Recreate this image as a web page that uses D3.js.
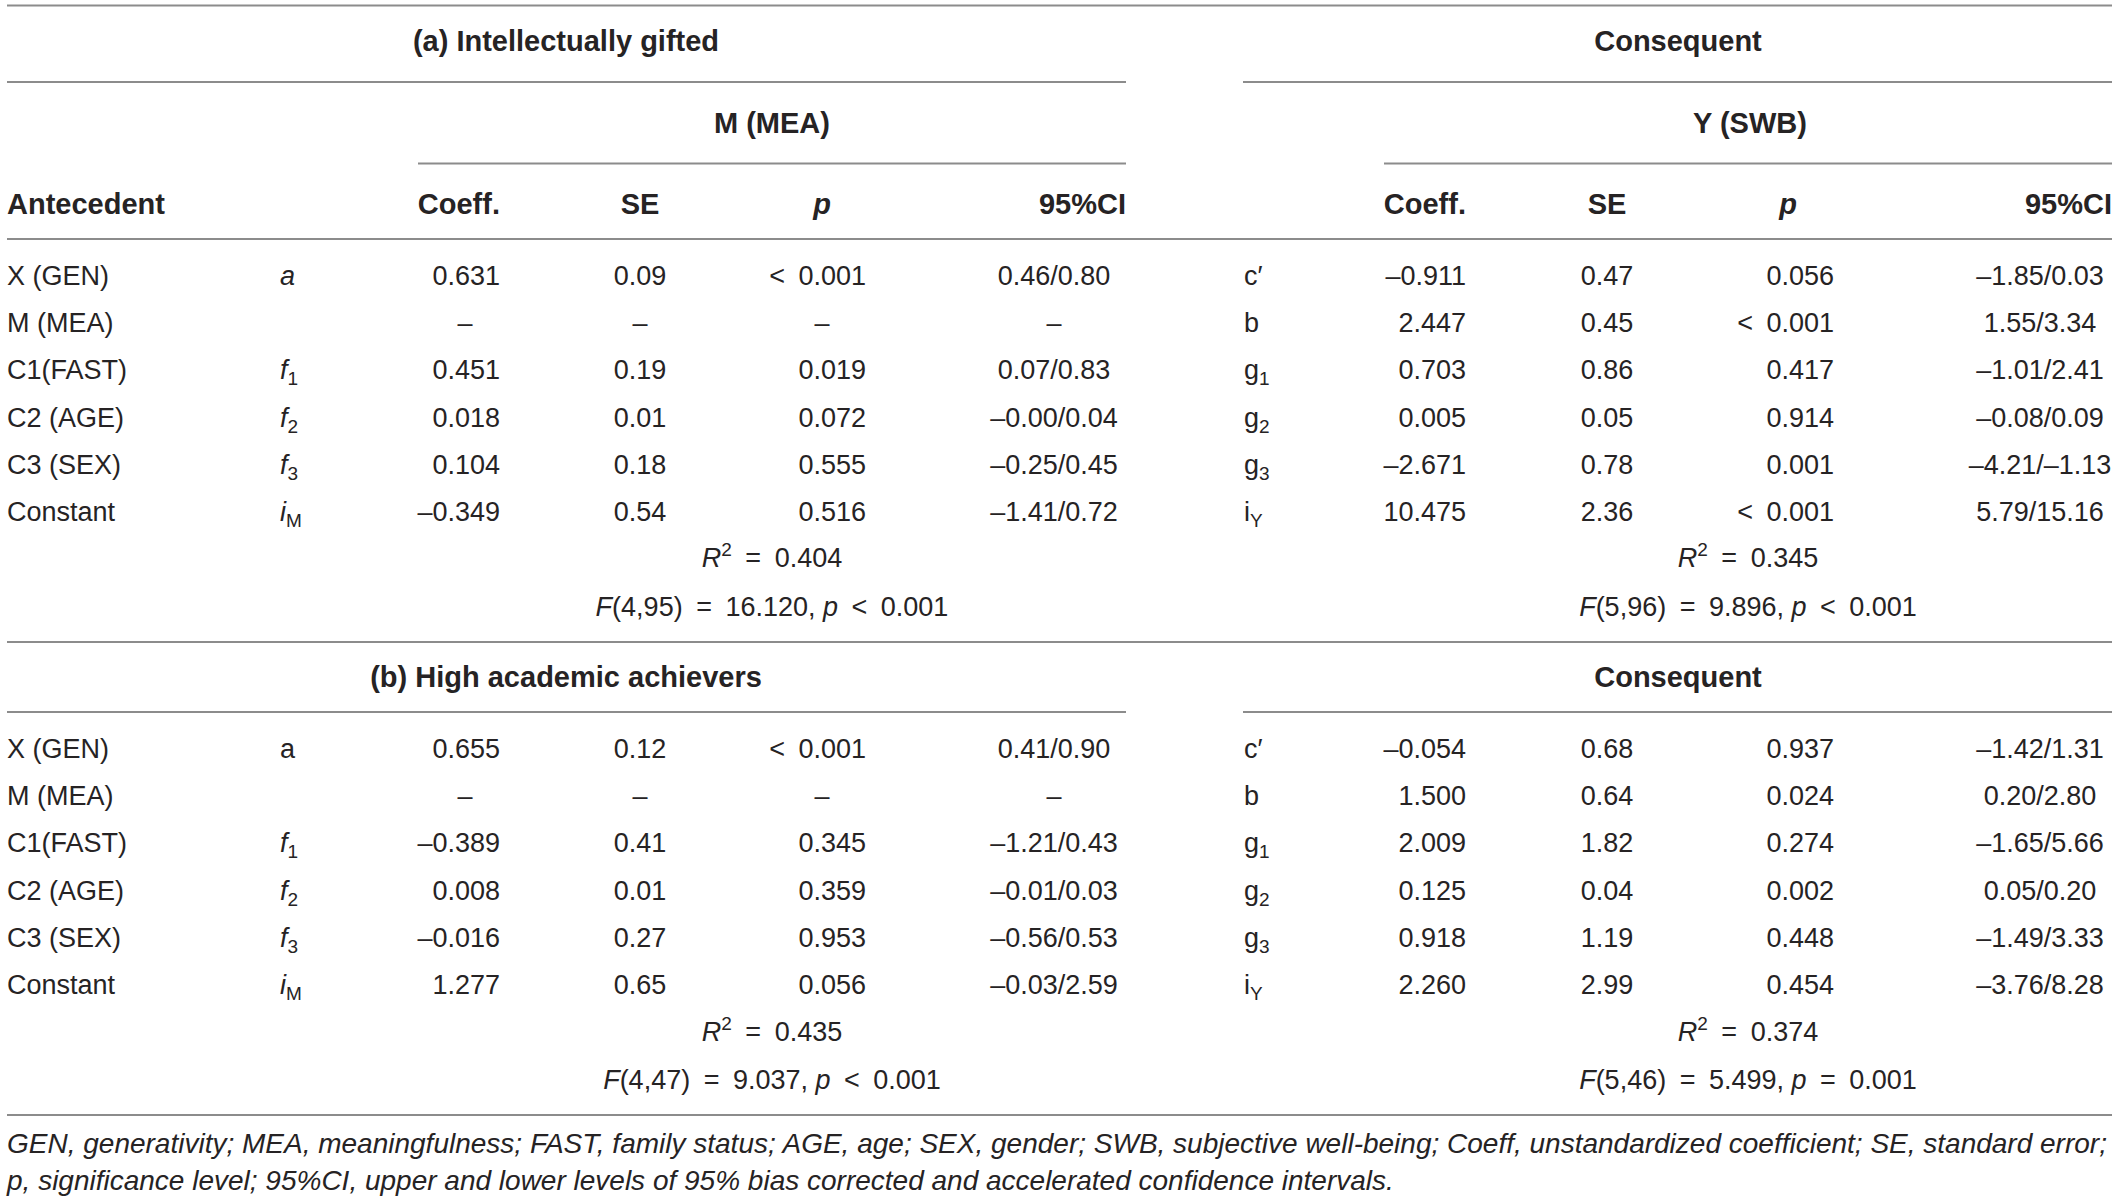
<!DOCTYPE html>
<html><head><meta charset="utf-8">
<script src="https://cdn.jsdelivr.net/npm/d3@7"></script>
<style>
body{margin:0;background:#fff}
text{font-family:"Liberation Sans",Arial,Helvetica,sans-serif;fill:#262324}
</style>
</head><body>
<svg id="c" width="2119" height="1202"></svg>
<script>
// ---------- DATA ----------
const antecedents = ["X (GEN)", "M (MEA)", "C1(FAST)", "C2 (AGE)", "C3 (SEX)", "Constant"];

const panelTitles = ["(a) Intellectually gifted", "(b) High academic achievers"];
const consequentLabel = "Consequent";
const outcomeM = "M (MEA)";
const outcomeY = "Y (SWB)";
const headerCols = ["Coeff.", "SE", "p", "95%CI"];

// panel (a)
const a_symM = ["*a", "", "*f_1", "*f_2", "*f_3", "*i_M"];
const a_coeffM = ["0.631", "–", "0.451", "0.018", "0.104", "–0.349"];
const a_seM = ["0.09", "–", "0.19", "0.01", "0.18", "0.54"];
const a_pM = ["< 0.001", "–", "0.019", "0.072", "0.555", "0.516"];
const a_ciM = ["0.46/0.80", "–", "0.07/0.83", "–0.00/0.04", "–0.25/0.45", "–1.41/0.72"];
const a_symY = ["c′", "b", "g_1", "g_2", "g_3", "i_Y"];
const a_coeffY = ["–0.911", "2.447", "0.703", "0.005", "–2.671", "10.475"];
const a_seY = ["0.47", "0.45", "0.86", "0.05", "0.78", "2.36"];
const a_pY = ["0.056", "< 0.001", "0.417", "0.914", "0.001", "< 0.001"];
const a_ciY = ["–1.85/0.03", "1.55/3.34", "–1.01/2.41", "–0.08/0.09", "–4.21/–1.13", "5.79/15.16"];
const a_r2 = ["0.404", "0.345"];
const a_F = [["4,95", "16.120", "<", "0.001"], ["5,96", "9.896", "<", "0.001"]];

// panel (b)
const b_symM = ["a", "", "*f_1", "*f_2", "*f_3", "*i_M"];
const b_coeffM = ["0.655", "–", "–0.389", "0.008", "–0.016", "1.277"];
const b_seM = ["0.12", "–", "0.41", "0.01", "0.27", "0.65"];
const b_pM = ["< 0.001", "–", "0.345", "0.359", "0.953", "0.056"];
const b_ciM = ["0.41/0.90", "–", "–1.21/0.43", "–0.01/0.03", "–0.56/0.53", "–0.03/2.59"];
const b_symY = ["c′", "b", "g_1", "g_2", "g_3", "i_Y"];
const b_coeffY = ["–0.054", "1.500", "2.009", "0.125", "0.918", "2.260"];
const b_seY = ["0.68", "0.64", "1.82", "0.04", "1.19", "2.99"];
const b_pY = ["0.937", "0.024", "0.274", "0.002", "0.448", "0.454"];
const b_ciY = ["–1.42/1.31", "0.20/2.80", "–1.65/5.66", "0.05/0.20", "–1.49/3.33", "–3.76/8.28"];
const b_r2 = ["0.435", "0.374"];
const b_F = [["4,47", "9.037", "<", "0.001"], ["5,46", "5.499", "=", "0.001"]];

const footnotes = [
  "GEN, generativity; MEA, meaningfulness; FAST, family status; AGE, age; SEX, gender; SWB, subjective well-being; Coeff, unstandardized coefficient; SE, standard error;",
  "p, significance level; 95%CI, upper and lower levels of 95% bias corrected and accelerated confidence intervals."
];

// ---------- LAYOUT ----------
const svg = d3.select("#c");
const FS = 27, FSB = 29, SUB = 19;
const L = 7, R = 2112;
const ruleColor = "#8c8c8c";
const ES = "\u2002"; // en space, mimics the wider math spacing of the original

// column x positions (scale: column key -> x)
const colKeys = ["sym", "coeff", "coeffDash", "se", "p", "pDash", "ci", "ciHead", "merged"];
const xM = d3.scaleOrdinal().domain(colKeys).range([280, 500, 465, 640, 866, 822, 1054, 1126, 772]);
const xY = d3.scaleOrdinal().domain(colKeys).range([1244, 1466, 1431, 1607, 1834, 1788, 2040, 2112, 1748]);

// row scales for both panels
const rowA = d3.scaleLinear().domain([0, 5]).range([276, 512]);
const rowB = d3.scaleLinear().domain([0, 5]).range([749, 985]);

function hline(x1, x2, y, w) {
  svg.append("line").attr("x1", x1).attr("x2", x2).attr("y1", y).attr("y2", y)
    .attr("stroke", ruleColor).attr("stroke-width", w || 2);
}
function txt(x, y, s, anchor, opts) {
  opts = opts || {};
  const t = svg.append("text").attr("x", x).attr("y", y)
    .attr("dominant-baseline", "central")
    .attr("text-anchor", anchor || "start")
    .attr("font-size", opts.size || (opts.bold ? FSB : FS))
    .text(s);
  if (opts.bold) t.attr("font-weight", "bold");
  if (opts.italic) t.attr("font-style", "italic");
  return t;
}
function sym(x, y, s) {
  if (!s) return;
  const italic = s.startsWith("*");
  const body = italic ? s.slice(1) : s;
  const [base, sub] = body.split("_");
  const t = svg.append("text").attr("x", x).attr("y", y)
    .attr("dominant-baseline", "central").attr("font-size", FS);
  t.append("tspan").attr("font-style", italic ? "italic" : "normal").text(base);
  if (sub) t.append("tspan").attr("font-size", SUB).attr("dy", 8).text(sub);
}
const pfmt = s => s.replace("< ", "<" + ES);

// rules
hline(L, R, 5.5);
hline(L, 1126, 82); hline(1243, R, 82);
hline(418, 1126, 163.5); hline(1384, R, 163.5);
hline(L, R, 239);
hline(L, R, 642);
hline(L, 1126, 712); hline(1243, R, 712);
hline(L, R, 1115);

// header titles
txt(566, 40.5, panelTitles[0], "middle", {bold: true});
txt(1678, 40.5, consequentLabel, "middle", {bold: true});
txt(772, 123, outcomeM, "middle", {bold: true});
txt(1750, 123, outcomeY, "middle", {bold: true});

txt(L, 204, "Antecedent", "start", {bold: true});
[xM, xY].forEach(x => {
  txt(x("coeff"), 204, headerCols[0], "end", {bold: true});
  txt(x("se"), 204, headerCols[1], "middle", {bold: true});
  txt(x("pDash"), 204, headerCols[2], "middle", {bold: true, italic: true});
  txt(x("ciHead"), 204, headerCols[3], "end", {bold: true});
});

function block(x, rowY, symArr, coeff, se, p, ci) {
  antecedents.forEach((_, i) => {
    const y = rowY(i);
    sym(x("sym"), y, symArr[i]);
    if (coeff[i] === "–") txt(x("coeffDash"), y, "–", "middle"); else txt(x("coeff"), y, coeff[i], "end");
    txt(x("se"), y, se[i], "middle");
    if (p[i] === "–") txt(x("pDash"), y, "–", "middle"); else txt(x("p"), y, pfmt(p[i]), "end");
    txt(x("ci"), y, ci[i], "middle");
  });
}
function stats(x, yR, yF, r2, F) {
  const t = svg.append("text").attr("x", x("merged")).attr("y", yR)
    .attr("dominant-baseline", "central").attr("text-anchor", "middle").attr("font-size", FS);
  t.append("tspan").attr("font-style", "italic").text("R");
  t.append("tspan").attr("font-size", SUB).attr("dy", -9).text("2");
  t.append("tspan").attr("dy", 9).text(ES + "=" + ES + r2);
  const f = svg.append("text").attr("x", x("merged")).attr("y", yF)
    .attr("dominant-baseline", "central").attr("text-anchor", "middle").attr("font-size", FS);
  f.append("tspan").attr("font-style", "italic").text("F");
  f.append("tspan").text("(" + F[0] + ")" + ES + "=" + ES + F[1] + ", ");
  f.append("tspan").attr("font-style", "italic").text("p");
  f.append("tspan").text(ES + F[2] + ES + F[3]);
}

antecedents.forEach((a, i) => { txt(L, rowA(i), a); txt(L, rowB(i), a); });

block(xM, rowA, a_symM, a_coeffM, a_seM, a_pM, a_ciM);
block(xY, rowA, a_symY, a_coeffY, a_seY, a_pY, a_ciY);
stats(xM, 558, 607, a_r2[0], a_F[0]);
stats(xY, 558, 607, a_r2[1], a_F[1]);

txt(566, 677, panelTitles[1], "middle", {bold: true});
txt(1678, 677, consequentLabel, "middle", {bold: true});

block(xM, rowB, b_symM, b_coeffM, b_seM, b_pM, b_ciM);
block(xY, rowB, b_symY, b_coeffY, b_seY, b_pY, b_ciY);
stats(xM, 1032, 1080, b_r2[0], b_F[0]);
stats(xY, 1032, 1080, b_r2[1], b_F[1]);

// footnote, fitted to table width
const fn = footnotes.map((s, i) => txt(L, [1143, 1180][i], s, "start", {italic: true, size: 24}));
const w0 = fn[0].node().getComputedTextLength();
const fsz = 24 * (2101 / w0);
fn.forEach(t => t.attr("font-size", fsz));
</script>
</body></html>
